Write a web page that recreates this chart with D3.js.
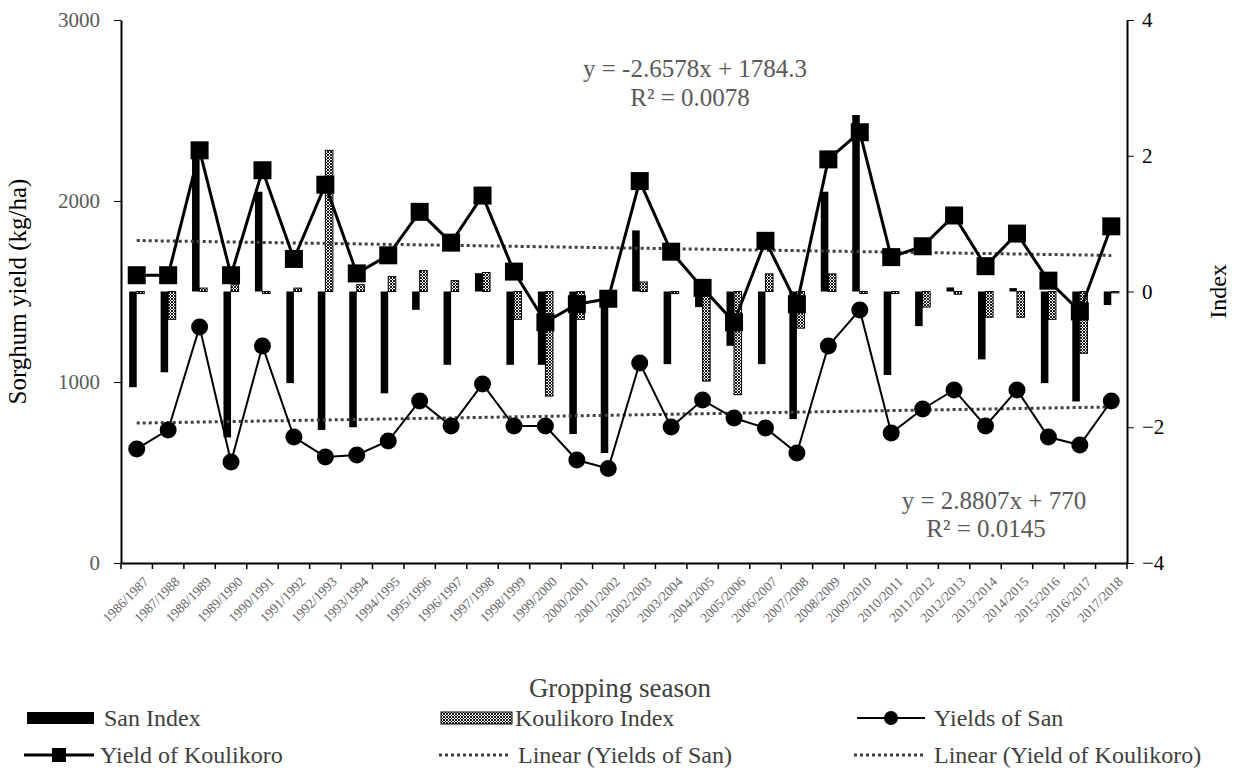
<!DOCTYPE html>
<html>
<head>
<meta charset="utf-8">
<script src="https://cdn.jsdelivr.net/npm/d3@7"></script>
<style>
  html, body { margin: 0; padding: 0; background: #fff; overflow: hidden; }
  svg { display: block; }
  text { font-family: "Liberation Serif", "Times New Roman", serif; }
</style>
</head>
<body>
<svg width="1234" height="782"></svg>
<script>
const seasons = ["1986/1987","1987/1988","1988/1989","1989/1990","1990/1991","1991/1992","1992/1993","1993/1994",
  "1994/1995","1995/1996","1996/1997","1997/1998","1998/1999","1999/2000","2000/2001","2001/2002",
  "2002/2003","2003/2004","2004/2005","2005/2006","2006/2007","2007/2008","2008/2009","2009/2010",
  "2010/2011","2011/2012","2012/2013","2013/2014","2014/2015","2015/2016","2016/2017","2017/2018"];

const yieldKoulikoro = [1590,1590,2280,1590,2170,1680,2090,1600,1700,1940,1770,2030,1610,1330,1430,1460,
  2110,1720,1520,1330,1780,1430,2230,2380,1690,1750,1920,1640,1820,1560,1390,1860];
const yieldSan = [630,735,1304,558,1199,696,586,597,674,895,757,989,757,757,569,522,
  1105,751,900,801,746,608,1199,1398,718,851,956,757,956,696,652,895];
const sanIndex = [-1.41,-1.19,2.0,-2.15,1.47,-1.35,-2.04,-2.0,-1.5,-0.27,-1.08,0.27,-1.08,-1.08,-2.1,-2.38,
  0.9,-1.07,-0.23,-0.8,-1.07,-1.88,1.47,2.6,-1.23,-0.51,0.06,-1.0,0.05,-1.35,-1.62,-0.2];
const koulikoroIndex = [-0.03,-0.41,0.05,0.1,-0.03,0.05,2.08,0.1,0.22,0.31,0.16,0.28,-0.41,-1.54,-0.41,-0.05,
  0.14,-0.03,-1.32,-1.52,0.26,-0.54,0.26,-0.03,-0.03,-0.23,-0.04,-0.38,-0.38,-0.41,-0.91,-0.02];

// trend lines as printed on the chart
const trendSlope = { san: 2.8807, koulikoro: -2.6578 };
const trendIntercept = { san: 770, koulikoro: 1784.3 };
const leftTicks = [0, 1000, 2000, 3000];
const rightTicks = [-4, -2, 0, 2, 4];

const data = seasons.map((s, i) => ({
  season: s, i: i + 1,
  ky: yieldKoulikoro[i], sy: yieldSan[i],
  si: sanIndex[i], ki: koulikoroIndex[i]
}));

const margin = { left: 121, right: 107, top: 20, bottom: 219 };
const svg = d3.select('svg');
const width = +svg.attr('width');
const height = +svg.attr('height');
const innerWidth = width - margin.left - margin.right;
const innerHeight = height - margin.top - margin.bottom;

const defs = svg.append('defs');
const pat = defs.append('pattern')
  .attr('id', 'hatch')
  .attr('patternUnits', 'userSpaceOnUse')
  .attr('width', 3).attr('height', 3);
pat.append('rect').attr('width', 3).attr('height', 3).attr('fill', '#fff');
pat.append('path').attr('d', 'M0,0L3,3M3,0L0,3').attr('stroke', '#000').attr('stroke-width', 0.9);

const g = svg.append('g')
  .attr('transform', `translate(${margin.left}, ${margin.top})`);

const xScale = d3.scaleBand()
  .domain(seasons)
  .range([0, innerWidth]);
const cx = d => xScale(d.season) + xScale.bandwidth() / 2;
const yLeft = d3.scaleLinear().domain([0, 3000]).range([innerHeight, 0]);
const yRight = d3.scaleLinear().domain([-4, 4]).range([innerHeight, 0]);
const barW = xScale.bandwidth() * 0.24;

// bars
g.selectAll('.san-bar').data(data).enter().append('rect')
  .attr('x', d => cx(d) - barW)
  .attr('y', d => yRight(Math.max(0, d.si)))
  .attr('width', barW)
  .attr('height', d => Math.abs(yRight(d.si) - yRight(0)))
  .attr('fill', '#000');

g.selectAll('.kou-bar').data(data).enter().append('rect')
  .attr('x', d => cx(d))
  .attr('y', d => yRight(Math.max(0, d.ki)))
  .attr('width', barW)
  .attr('height', d => Math.abs(yRight(d.ki) - yRight(0)))
  .attr('fill', 'url(#hatch)')
  .attr('stroke', '#000')
  .attr('stroke-width', 1);

// trend lines
const first = data[0], last = data[data.length - 1];
['san', 'koulikoro'].forEach(k => {
  const f = x => trendSlope[k] * x + trendIntercept[k];
  g.append('line')
    .attr('x1', cx(first)).attr('x2', cx(last))
    .attr('y1', yLeft(f(first.i))).attr('y2', yLeft(f(last.i)))
    .attr('stroke', '#404040')
    .attr('stroke-width', 3)
    .attr('stroke-dasharray', '3,3');
});

// yield lines
const line = key => d3.line().x(cx).y(d => yLeft(d[key]));

g.append('path').datum(data)
  .attr('fill', 'none').attr('stroke', '#000').attr('stroke-width', 2)
  .attr('d', line('sy'));
g.selectAll('.san-pt').data(data).enter().append('circle')
  .attr('cx', cx).attr('cy', d => yLeft(d.sy)).attr('r', 8.5).attr('fill', '#000');

g.append('path').datum(data)
  .attr('fill', 'none').attr('stroke', '#000').attr('stroke-width', 3)
  .attr('d', line('ky'));
g.selectAll('.kou-pt').data(data).enter().append('rect')
  .attr('x', d => cx(d) - 9).attr('y', d => yLeft(d.ky) - 9)
  .attr('width', 18).attr('height', 18).attr('fill', '#000');

// axes
const xAxisG = g.append('g').attr('transform', `translate(0, ${innerHeight})`);
const xAxis = d3.axisBottom(xScale).tickSize(0).tickSizeOuter(0);
xAxisG.call(xAxis);
xAxisG.select('.domain').attr('stroke-width', 2);
xAxisG.selectAll('.tick text')
  .attr('font-size', 13.5)
  .attr('fill', '#666')
  .attr('text-anchor', 'end')
  .attr('dy', '0.35em')
  .attr('transform', 'translate(7, 14) rotate(-45)');
// tick marks between categories
xAxisG.selectAll('.sep').data(d3.range(seasons.length + 1)).enter().append('line')
  .attr('x1', i => i * xScale.step()).attr('x2', i => i * xScale.step())
  .attr('y1', 0).attr('y2', 6).attr('stroke', '#000').attr('stroke-width', 1.5);

const yAxisG = g.append('g');
yAxisG.call(d3.axisLeft(yLeft).tickValues(leftTicks).tickFormat(d3.format('d'))
  .tickSize(7).tickSizeOuter(0).tickPadding(14));
yAxisG.select('.domain').attr('stroke-width', 2);
yAxisG.selectAll('.tick text').attr('font-size', 21).attr('fill', '#595959');

const y2AxisG = g.append('g').attr('transform', `translate(${innerWidth}, 0)`);
y2AxisG.call(d3.axisRight(yRight).tickValues(rightTicks).tickSize(7).tickSizeOuter(0).tickPadding(8));
y2AxisG.select('.domain').attr('stroke-width', 2);
y2AxisG.selectAll('.tick text').attr('font-size', 21).attr('fill', '#000');

// titles
svg.append('text')
  .attr('transform', `translate(26, ${margin.top + innerHeight / 2}) rotate(-90)`)
  .attr('text-anchor', 'middle').attr('font-size', 25).attr('fill', '#000')
  .text('Sorghum yield (kg/ha)');
svg.append('text')
  .attr('transform', `translate(1226, ${margin.top + innerHeight / 2}) rotate(-90)`)
  .attr('text-anchor', 'middle').attr('font-size', 24).attr('fill', '#000')
  .text('Index');
svg.append('text')
  .attr('x', 620).attr('y', 697)
  .attr('text-anchor', 'middle').attr('font-size', 27).attr('fill', '#404040')
  .text('Gropping season');

// trend equations
const eq = [
  { x: 695, y: 77, t: 'y = -2.6578x + 1784.3' },
  { x: 690, y: 106, t: 'R² = 0.0078' },
  { x: 994, y: 509, t: 'y = 2.8807x + 770' },
  { x: 986, y: 537, t: 'R² = 0.0145' }
];
svg.selectAll('.eq').data(eq).enter().append('text')
  .attr('x', d => d.x).attr('y', d => d.y)
  .attr('text-anchor', 'middle').attr('font-size', 25).attr('fill', '#595959')
  .text(d => d.t);

// legend
const leg = svg.append('g');
const row1 = 718, row2 = 755;
leg.append('rect').attr('x', 27).attr('y', row1 - 6).attr('width', 67).attr('height', 12).attr('fill', '#000');
leg.append('rect').attr('x', 441).attr('y', row1 - 6).attr('width', 71).attr('height', 12)
  .attr('fill', 'url(#hatch)').attr('stroke', '#000');
leg.append('line').attr('x1', 857).attr('x2', 925).attr('y1', row1).attr('y2', row1)
  .attr('stroke', '#000').attr('stroke-width', 2);
leg.append('circle').attr('cx', 891).attr('cy', row1).attr('r', 7).attr('fill', '#000');
leg.append('line').attr('x1', 24).attr('x2', 94).attr('y1', row2).attr('y2', row2)
  .attr('stroke', '#000').attr('stroke-width', 3);
leg.append('rect').attr('x', 52).attr('y', row2 - 7).attr('width', 14).attr('height', 14).attr('fill', '#000');
[[439, 510], [854, 925]].forEach(([a, b]) => {
  leg.append('line').attr('x1', a).attr('x2', b).attr('y1', row2).attr('y2', row2)
    .attr('stroke', '#404040').attr('stroke-width', 3).attr('stroke-dasharray', '3,3');
});
const legText = [
  { x: 104, y: row1, t: 'San Index' },
  { x: 515, y: row1, t: 'Koulikoro Index' },
  { x: 934, y: row1, t: 'Yields of San' },
  { x: 100, y: row2, t: 'Yield of Koulikoro' },
  { x: 518, y: row2, t: 'Linear (Yields of San)' },
  { x: 934, y: row2, t: 'Linear (Yield of Koulikoro)' }
];
leg.selectAll('.lt').data(legText).enter().append('text')
  .attr('x', d => d.x).attr('y', d => d.y).attr('dy', '0.35em')
  .attr('font-size', 24).attr('fill', '#404040')
  .text(d => d.t);
</script>
</body>
</html>
